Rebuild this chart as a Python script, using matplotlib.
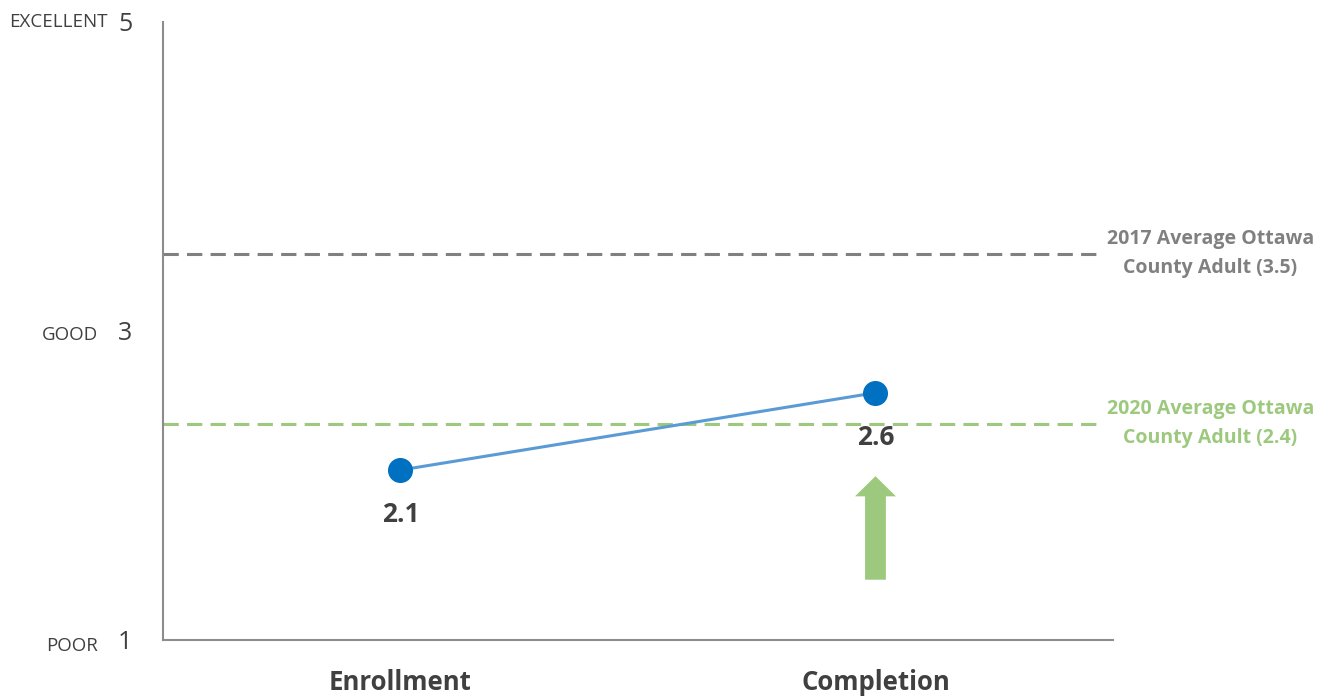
import matplotlib.pyplot as plt
from matplotlib.transforms import blended_transform_factory

# survey scores (1 = poor, 5 = excellent)
stages = ["Enrollment", "Completion"]
scores = [2.1, 2.6]

ref_2017 = 3.5
ref_2020 = 2.4
ref_2017_label = "2017 Average Ottawa\nCounty Adult (3.5)"
ref_2020_label = "2020 Average Ottawa\nCounty Adult (2.4)"

y_ticks = [1, 3, 5]
y_words = ["POOR", "GOOD", "EXCELLENT"]

plt.rcParams['font.family'] = ['Open Sans', 'DejaVu Sans']

dark = "#404040"
green = "#9DC97E"
gray = "#808080"
blue_line = "#5B9BD5"
blue_dot = "#0070C0"

fig = plt.figure(figsize=(13.39, 6.96), dpi=100)
ax = fig.add_axes([0.1217, 0.0805, 0.7095, 0.8879])

x = list(range(len(stages)))

# reference lines
ax.plot([-0.5, 1.48], [ref_2017, ref_2017], color=gray, lw=2.2, dashes=(5, 2.7))
ax.plot([-0.5, 1.48], [ref_2020, ref_2020], color=green, lw=2.2, dashes=(5, 2.7))
ax.text(1.705, ref_2017, ref_2017_label, ha="center", va="center", fontsize=14,
        fontweight="bold", color=gray, linespacing=1.6, clip_on=False)
ax.text(1.705, ref_2020, ref_2020_label, ha="center", va="center", fontsize=14,
        fontweight="bold", color=green, linespacing=1.6, clip_on=False)

# score line
ax.plot(x, scores, color=blue_line, lw=2.2, marker="o", markersize=17,
        markerfacecolor=blue_dot, markeredgecolor=blue_dot, zorder=3)
for xi, s in zip(x, scores):
    ax.annotate(f"{s:.1f}", (xi, s), xytext=(0, -32), textcoords="offset points",
                ha="center", va="center", fontsize=19, fontweight="bold", color=dark)

# upward arrow under completion
ax.annotate("", xy=(1, 2.06), xytext=(1, 1.39),
            arrowprops=dict(arrowstyle="simple,head_width=2.95,head_length=1.45,tail_width=1.5",
                            mutation_scale=10, color=green, shrinkA=0, shrinkB=0, lw=0))

ax.set_xlim(-0.5, 1.5)
ax.set_ylim(1, 5)
ax.set_xticks(x)
ax.set_xticklabels(stages, fontsize=18.5, fontweight="bold", color=dark)
ax.set_yticks(y_ticks)
ax.set_yticklabels([str(t) for t in y_ticks], fontsize=18, color=dark)
ax.tick_params(axis="x", length=0, pad=21)
ax.tick_params(axis="y", length=0, pad=22)

for side in ["top", "right"]:
    ax.spines[side].set_visible(False)
for side in ["left", "bottom"]:
    ax.spines[side].set_color("#8C8C8C")
    ax.spines[side].set_linewidth(1.5)

# rating words beside the numbers
trans = blended_transform_factory(fig.transFigure, ax.transData)
word_x = {"EXCELLENT": 108 / 1339, "GOOD": 98 / 1339, "POOR": 98 / 1339}
word_dy = {"EXCELLENT": 0, "GOOD": -3, "POOR": -4}
for t, w in zip(y_ticks, y_words):
    ax.annotate(w, (word_x[w], t), xycoords=trans, xytext=(0, word_dy[w]),
                textcoords="offset points", ha="right", va="center",
                fontsize=13.5, color=dark, annotation_clip=False)

fig.savefig("out.png", dpi=100)
